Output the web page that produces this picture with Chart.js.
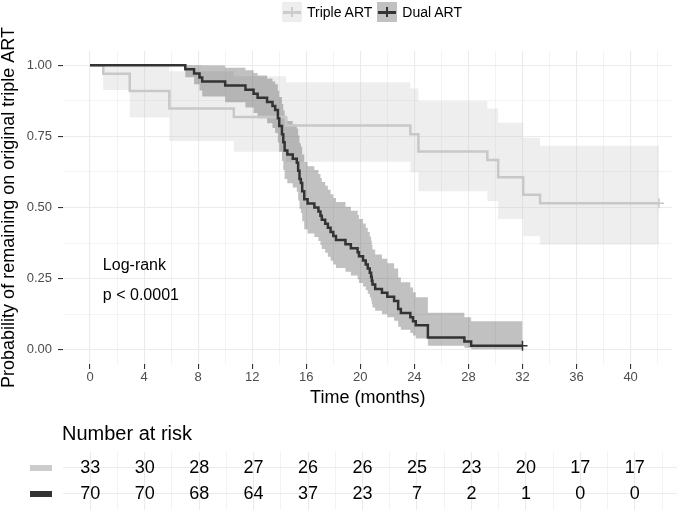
<!DOCTYPE html>
<html>
<head>
<meta charset="utf-8">
<script src="https://cdn.jsdelivr.net/npm/chart.js@4.4.0/dist/chart.umd.min.js"></script>
<style>
  html, body { margin: 0; padding: 0; background: #fff; }
  body { width: 679px; height: 510px; position: relative; overflow: hidden;
         font-family: 'Liberation Sans', Arial, sans-serif; }
  #mainBox { position: absolute; left: 0; top: 0; width: 679px; height: 420px; }
  #riskBox { position: absolute; left: 0; top: 420px; width: 679px; height: 90px; }
  #legend { position: absolute; top: 2px; left: 282px; height: 20px; display: flex;
            align-items: center; font-size: 14px; color: #000; z-index: 2; }
  .key { width: 20px; height: 20px; position: relative; margin-right: 5px; background: var(--bg); }
  .key::before { content: ''; position: absolute; left: 1px; right: 1px; top: 9px; height: 2.5px; background: var(--c); }
  .key::after { content: ''; position: absolute; left: 9px; top: 5px; width: 2px; height: 10px; background: var(--c); }
  .lab { margin-right: 5px; }
  #riskTitle { position: absolute; left: 62px; top: 423px; font-size: 20px; line-height: 20px;
               color: #000; z-index: 2; }
</style>
</head>
<body>
<div id="legend"></div>
<div id="mainBox"><canvas id="mainChart"></canvas></div>
<div id="riskTitle">Number at risk</div>
<div id="riskBox"><canvas id="riskChart"></canvas></div>
<script>
const seriesNames = ['Triple ART', 'Dual ART'];

// Kaplan-Meier steps, triple ART (months, survival, 95% CI)
const tripleTime  = [0, 0.98, 2.94, 5.87, 10.64, 14.5, 23.7, 24.3, 29.4, 30.2, 32.05, 33.3, 42.1];
const tripleSurv  = [1, 0.970, 0.909, 0.848, 0.818, 0.788, 0.757, 0.697, 0.667, 0.606, 0.545, 0.515, 0.515];
const tripleLower = [1, 0.913, 0.816, 0.734, 0.696, 0.661, 0.624, 0.557, 0.523, 0.460, 0.399, 0.370, 0.370];
const tripleUpper = [1, 1.000, 1.000, 0.979, 0.961, 0.940, 0.918, 0.873, 0.848, 0.798, 0.745, 0.717, 0.717];

// Kaplan-Meier steps, dual ART
const dualTime  = [0, 7.05, 7.7, 8.1, 8.3, 10.0, 11.5, 12.1, 12.4, 13.1, 13.5, 13.7, 13.9, 14.0, 14.2, 14.3, 14.4,
                   14.6, 15.0, 15.3, 15.4, 15.5, 15.6, 15.7, 15.85, 16.1, 16.6, 16.9, 17.05, 17.15, 17.4, 17.6, 17.8,
                   18.0, 18.2, 18.9, 19.3, 19.8, 19.9, 20.2, 20.4, 20.55, 20.7, 20.8, 20.85, 20.9, 21.1, 21.6, 22.0,
                   22.5, 22.8, 23.0, 23.7, 23.9, 24.1, 25.0, 27.7, 28.2, 32.0];
const dualSurv  = [1, 0.986, 0.971, 0.957, 0.943, 0.929, 0.914, 0.900, 0.886, 0.871, 0.857, 0.843, 0.814, 0.786, 0.757, 0.729, 0.700,
                   0.686, 0.671, 0.657, 0.629, 0.600, 0.586, 0.557, 0.529, 0.514, 0.500, 0.486, 0.471, 0.457, 0.443, 0.429, 0.414,
                   0.400, 0.386, 0.371, 0.357, 0.343, 0.329, 0.314, 0.300, 0.286, 0.271, 0.257, 0.243, 0.229, 0.214, 0.200, 0.186,
                   0.171, 0.143, 0.129, 0.114, 0.100, 0.086, 0.043, 0.029, 0.014, 0.014];
const dualLower = [1, 0.958, 0.933, 0.911, 0.890, 0.870, 0.851, 0.832, 0.814, 0.796, 0.779, 0.762, 0.728, 0.696, 0.663, 0.632, 0.600,
                   0.585, 0.570, 0.555, 0.525, 0.496, 0.481, 0.452, 0.424, 0.409, 0.396, 0.382, 0.368, 0.354, 0.341, 0.327, 0.313,
                   0.300, 0.287, 0.274, 0.261, 0.248, 0.235, 0.222, 0.210, 0.197, 0.185, 0.173, 0.161, 0.149, 0.137, 0.125, 0.114,
                   0.102, 0.081, 0.070, 0.059, 0.050, 0.040, 0.014, 0.007, 0.002, 0.002];
const dualUpper = [1, 1.000, 1.000, 1.000, 0.999, 0.991, 0.982, 0.973, 0.964, 0.953, 0.943, 0.933, 0.910, 0.888, 0.864, 0.841, 0.816,
                   0.804, 0.791, 0.778, 0.753, 0.726, 0.714, 0.686, 0.660, 0.645, 0.632, 0.618, 0.604, 0.590, 0.576, 0.562, 0.547,
                   0.533, 0.519, 0.503, 0.489, 0.474, 0.460, 0.444, 0.429, 0.414, 0.398, 0.383, 0.367, 0.352, 0.335, 0.320, 0.304,
                   0.286, 0.254, 0.237, 0.219, 0.202, 0.185, 0.130, 0.114, 0.100, 0.100];

// censoring marks (time, survival)
const tripleCensorTime = [42.1];
const tripleCensorSurv = [0.515];
const dualCensorTime = [32.0];
const dualCensorSurv = [0.014];

const xTickLabels = [0, 4, 8, 12, 16, 20, 24, 28, 32, 36, 40];
const yTickLabels = [0, 0.25, 0.5, 0.75, 1];

const riskTimes  = [0, 4, 8, 12, 16, 20, 24, 28, 32, 36, 40];
const riskTriple = [33, 30, 28, 27, 26, 26, 25, 23, 20, 17, 17];
const riskDual   = [70, 70, 68, 64, 37, 23, 7, 2, 1, 0, 0];

const testText = ['Log-rank', 'p < 0.0001'];

const FONT = "'Liberation Sans', Arial, sans-serif";
Chart.defaults.font.family = FONT;

const pts = (t, v) => t.map((x, i) => ({ x: x, y: v[i] }));

const gridX = [];
for (let v = 0; v <= 42; v += 2) gridX.push(v);
const gridY = [];
for (let i = 0; i <= 8; i++) gridY.push(i * 0.125);

const isMajorX = v => v % 4 === 0;
const isMajorY = v => yTickLabels.some(t => Math.abs(t - v) < 1e-6);

// legend built from the series names
const legendColors = [
    { bg: 'rgba(200,200,200,0.3)', c: '#cccccc' },
    { bg: 'rgba(51,51,51,0.3)', c: '#333333' }
];
const legendEl = document.getElementById('legend');
seriesNames.forEach((name, i) => {
    const k = document.createElement('span');
    k.className = 'key';
    k.style.setProperty('--bg', legendColors[i].bg);
    k.style.setProperty('--c', legendColors[i].c);
    const l = document.createElement('span');
    l.className = 'lab';
    l.textContent = name;
    legendEl.appendChild(k);
    legendEl.appendChild(l);
});

function xAxis(showLabels) {
    return {
        type: 'linear',
        min: -2,
        max: 43.1,
        afterBuildTicks: s => { s.ticks = gridX.map(v => ({ value: v })); },
        afterFit: s => { s.height = showLabels ? 56 : 0; },
        border: { display: false },
        grid: {
            color: '#ebebeb',
            lineWidth: c => (c.tick && isMajorX(c.tick.value)) ? 1.1 : 0.6,
            drawTicks: showLabels,
            tickLength: 5,
            tickWidth: 1.1,
            tickColor: c => (c.tick && isMajorX(c.tick.value)) ? '#333333' : 'rgba(0,0,0,0)'
        },
        ticks: {
            display: showLabels,
            autoSkip: false,
            maxRotation: 0,
            padding: 1,
            color: '#4d4d4d',
            font: { size: 13 },
            callback: v => xTickLabels.includes(v) ? String(v) : ''
        },
        title: {
            display: showLabels,
            text: 'Time (months)',
            color: '#000',
            font: { size: 18 },
            padding: { top: 0, bottom: 11 }
        }
    };
}

const testLabel = {
    id: 'testLabel',
    afterDatasetsDraw(chart) {
        const { ctx, scales } = chart;
        ctx.save();
        ctx.fillStyle = '#000';
        ctx.font = '16px ' + FONT;
        ctx.textAlign = 'left';
        ctx.textBaseline = 'middle';
        ctx.fillText(testText[0], scales.x.getPixelForValue(0.95), scales.y.getPixelForValue(0.295));
        ctx.fillText(testText[1], scales.x.getPixelForValue(0.95), scales.y.getPixelForValue(0.19));
        ctx.restore();
    }
};

const band = (data, color, fillTo, order) => ({
    data: data,
    stepped: 'before',
    borderWidth: 0,
    borderColor: 'rgba(0,0,0,0)',
    backgroundColor: color,
    pointRadius: 0,
    fill: fillTo,
    order: order
});

new Chart(document.getElementById('mainChart'), {
    type: 'line',
    data: {
        datasets: [
            band(pts(tripleTime, tripleLower), 'rgba(0,0,0,0)', false, 6),
            band(pts(tripleTime, tripleUpper), 'rgba(200,200,200,0.3)', 0, 5),
            band(pts(dualTime, dualLower), 'rgba(0,0,0,0)', false, 4),
            band(pts(dualTime, dualUpper), 'rgba(51,51,51,0.3)', 2, 3),
            {
                label: seriesNames[0],
                data: pts(tripleTime, tripleSurv),
                stepped: 'before',
                borderColor: '#c8c8c8',
                borderWidth: 2.5,
                pointRadius: 0,
                fill: false,
                order: 2
            },
            {
                label: seriesNames[1],
                data: pts(dualTime, dualSurv),
                stepped: 'before',
                borderColor: '#333333',
                borderWidth: 2.5,
                pointRadius: 0,
                fill: false,
                order: 1
            },
            {
                data: pts(tripleCensorTime, tripleCensorSurv),
                showLine: false,
                pointStyle: 'cross',
                pointRadius: 5,
                pointBorderWidth: 1.5,
                pointBorderColor: '#c8c8c8',
                order: 0
            },
            {
                data: pts(dualCensorTime, dualCensorSurv),
                showLine: false,
                pointStyle: 'cross',
                pointRadius: 5,
                pointBorderWidth: 1.5,
                pointBorderColor: '#333333',
                order: 0
            }
        ]
    },
    options: {
        responsive: true,
        maintainAspectRatio: false,
        animation: false,
        events: [],
        layout: { padding: { left: 0, right: 2, top: 51, bottom: 0 } },
        plugins: { legend: { display: false }, tooltip: { enabled: false } },
        scales: {
            x: xAxis(true),
            y: {
                type: 'linear',
                min: -0.05,
                max: 1.05,
                afterBuildTicks: s => { s.ticks = gridY.map(v => ({ value: v })); },
                afterFit: s => { s.width = 63; },
                border: { display: false },
                grid: {
                    color: '#ebebeb',
                    lineWidth: c => (c.tick && isMajorY(c.tick.value)) ? 1.1 : 0.6,
                    tickLength: 5,
                    tickWidth: 1.1,
                    tickColor: c => (c.tick && isMajorY(c.tick.value)) ? '#333333' : 'rgba(0,0,0,0)'
                },
                ticks: {
                    padding: 6,
                    color: '#4d4d4d',
                    font: { size: 13 },
                    callback: v => isMajorY(v) ? v.toFixed(2) : ''
                },
                title: {
                    display: true,
                    text: 'Probability of remaining on original triple ART',
                    color: '#000',
                    font: { size: 18, lineHeight: 1 },
                    padding: 0
                }
            }
        }
    },
    plugins: [testLabel]
});

// number-at-risk table
const riskRows = [2, 1];
const riskKeyColors = ['#cccccc', '#333333'];

const riskText = {
    id: 'riskText',
    afterDatasetsDraw(chart) {
        const { ctx, scales } = chart;
        ctx.save();
        [riskTriple, riskDual].forEach((vals, r) => {
            const meta = chart.getDatasetMeta(r);
            ctx.fillStyle = '#000';
            ctx.font = '18px ' + FONT;
            ctx.textAlign = 'center';
            ctx.textBaseline = 'middle';
            meta.data.forEach((el, j) => ctx.fillText(String(vals[j]), el.x, el.y));
            const y = scales.y.getPixelForValue(riskRows[r]);
            ctx.fillStyle = riskKeyColors[r];
            ctx.fillRect(30, y - 3, 22, 6);
        });
        ctx.restore();
    }
};

new Chart(document.getElementById('riskChart'), {
    type: 'scatter',
    data: {
        datasets: [
            { data: riskTimes.map(t => ({ x: t, y: riskRows[0] })), pointRadius: 0 },
            { data: riskTimes.map(t => ({ x: t, y: riskRows[1] })), pointRadius: 0 }
        ]
    },
    options: {
        responsive: true,
        maintainAspectRatio: false,
        animation: false,
        events: [],
        layout: { padding: { left: 0, right: 2, top: 32, bottom: 0 } },
        plugins: { legend: { display: false }, tooltip: { enabled: false } },
        scales: {
            x: xAxis(false),
            y: {
                type: 'linear',
                min: 0.3846,
                max: 2.6154,
                afterBuildTicks: s => { s.ticks = riskRows.map(v => ({ value: v })); },
                afterFit: s => { s.width = 63; },
                border: { display: false },
                grid: { color: '#ebebeb', lineWidth: 1.1, drawTicks: false },
                ticks: { display: false }
            }
        }
    },
    plugins: [riskText]
});
</script>
</body>
</html>
